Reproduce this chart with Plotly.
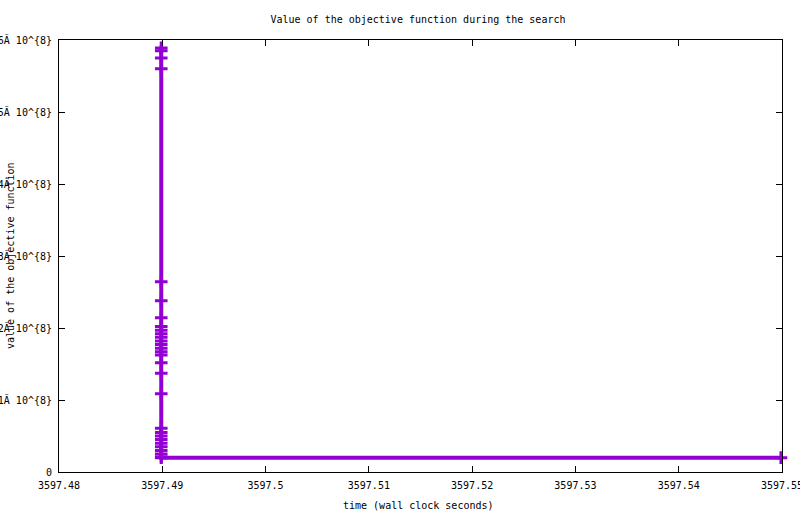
import plotly.graph_objects as go

# objective values (units of 1e8)
values_e8 = [5.89, 5.85, 5.75, 5.60, 2.643, 2.379, 2.143,
             2.02, 1.97, 1.92, 1.87, 1.82, 1.77, 1.72, 1.67, 1.625,
             1.518, 1.371, 1.088, 0.607,
             0.55, 0.50, 0.45, 0.40, 0.35, 0.30, 0.25, 0.21, 0.199,
             0.199]
times = [3597.4899] * 29 + [3597.5499]

x_ticks = [3597.48, 3597.49, 3597.50, 3597.51, 3597.52, 3597.53, 3597.54, 3597.55]
x_tick_text = ["3597.48", "3597.49", "3597.5", "3597.51", "3597.52", "3597.53", "3597.54", "3597.55"]
y_ticks = [0, 1e8, 2e8, 3e8, 4e8, 5e8, 6e8]
y_tick_text = ["0", "1Ã 10^{8}", "2Ã 10^{8}", "3Ã 10^{8}", "4Ã 10^{8}", "5Ã 10^{8}", "6Ã 10^{8}"]

values = [v * 1e8 for v in values_e8]

color = "#9400D3"
font = dict(family="DejaVu Sans Mono", size=10, color="black")

fig = go.Figure()
fig.add_trace(go.Scatter(
    x=times, y=values, mode="lines+markers",
    line=dict(color=color, width=4),
    marker=dict(symbol="cross-thin", size=9, line=dict(color=color, width=3)),
    showlegend=False, cliponaxis=False,
))

axis_common = dict(showgrid=False, zeroline=False, showline=True, linecolor="black",
                   linewidth=1, mirror="ticks", ticks="inside", ticklen=6,
                   tickcolor="black", tickfont=font, ticklabeloverflow="allow")

fig.update_layout(
    width=800, height=514,
    margin=dict(l=59, r=18, t=40, b=42, autoexpand=False),
    plot_bgcolor="white", paper_bgcolor="white",
    font=font,
    title=dict(text="Value of the objective function during the search",
               x=0.4965, xref="paper", xanchor="center",
               y=1 - 19 / 514, yref="container", yanchor="middle", font=font),
    xaxis=dict(range=[3597.48, 3597.55], tickvals=x_ticks, ticktext=x_tick_text,
               ticklabelstandoff=4, **axis_common),
    yaxis=dict(range=[0, 6e8], tickvals=y_ticks, ticktext=y_tick_text,
               ticklabelstandoff=4, **axis_common),
    annotations=[
        dict(text="time (wall clock seconds)", xref="paper", yref="paper",
             x=(418 - 59) / 723, y=(472 - 505) / 432, showarrow=False,
             xanchor="center", yanchor="middle", font=font),
        dict(text="value of the objective function", xref="paper", yref="paper",
             x=(10 - 59) / 723, y=(472 - 256) / 432, showarrow=False, textangle=-90,
             xanchor="center", yanchor="middle", font=font),
    ],
)

fig.write_html("out.html", config={"displayModeBar": False},
               post_script="document.body.style.margin='0';document.body.style.padding='0';")
